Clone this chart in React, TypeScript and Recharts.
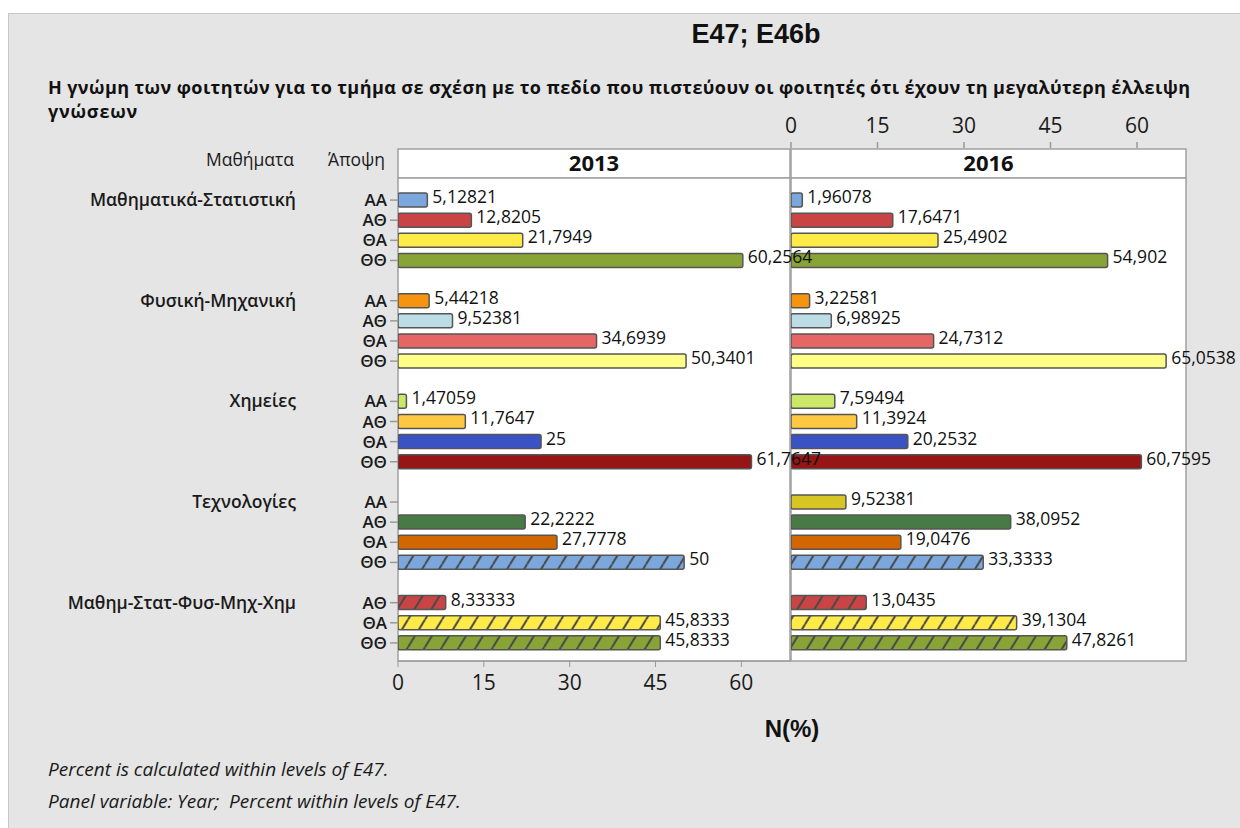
import { BarChart, Bar, XAxis, YAxis, Cell, LabelList } from 'recharts'

const groups = ['Μαθηματικά-Στατιστική', 'Φυσική-Μηχανική', 'Χημείες', 'Τεχνολογίες', 'Μαθημ-Στατ-Φυσ-Μηχ-Χημ']
const opinions = [
  ['ΑΑ', 'ΑΘ', 'ΘΑ', 'ΘΘ'],
  ['ΑΑ', 'ΑΘ', 'ΘΑ', 'ΘΘ'],
  ['ΑΑ', 'ΑΘ', 'ΘΑ', 'ΘΘ'],
  ['ΑΑ', 'ΑΘ', 'ΘΑ', 'ΘΘ'],
  ['ΑΘ', 'ΘΑ', 'ΘΘ'],
]
const pct2013 = [
  [5.12821, 12.8205, 21.7949, 60.2564],
  [5.44218, 9.52381, 34.6939, 50.3401],
  [1.47059, 11.7647, 25, 61.7647],
  [null, 22.2222, 27.7778, 50],
  [8.33333, 45.8333, 45.8333],
]
const pct2016 = [
  [1.96078, 17.6471, 25.4902, 54.902],
  [3.22581, 6.98925, 24.7312, 65.0538],
  [7.59494, 11.3924, 20.2532, 60.7595],
  [9.52381, 38.0952, 19.0476, 33.3333],
  [13.0435, 39.1304, 47.8261],
]
const barColors = [
  ['#7BA7DC', '#C94444', '#FFEB47', '#88A336'],
  ['#F7940F', '#BCDDE6', '#E66565', '#FFFF88'],
  ['#CCE868', '#FFC843', '#3A53C4', '#961515'],
  ['#D6C523', '#477A45', '#D26600', '#7BA7DC'],
  ['#C94444', '#FFEB47', '#88A336'],
]
const hatched = [
  [false, false, false, false],
  [false, false, false, false],
  [false, false, false, false],
  [false, false, false, true],
  [true, true, true],
]
const years = ['2013', '2016']
const xTicks = [0, 15, 30, 45, 60]
const xMax = 68.5

const SANS = '"Open Sans", "Noto Sans", sans-serif'
const ARIAL = '"Liberation Sans", Arial, sans-serif'
const FRAME = '#A0A0A0'

type Row = {
  key: string
  opinion?: string
  groupLabel?: string
  v2013?: number | null
  v2016?: number | null
  color?: string
  hatch?: boolean
}

const rows: Row[] = []
groups.forEach((g, gi) => {
  opinions[gi].forEach((op, oi) => {
    rows.push({
      key: `${gi}-${op}`,
      opinion: op,
      groupLabel: oi === 0 ? g : undefined,
      v2013: pct2013[gi][oi],
      v2016: pct2016[gi][oi],
      color: barColors[gi][oi],
      hatch: hatched[gi][oi],
    })
  })
  if (gi < groups.length - 1) rows.push({ key: `sep-${gi}` })
})
const rowByKey: Record<string, Row> = Object.fromEntries(rows.map((r) => [r.key, r]))

const hatchColors = Array.from(new Set(rows.filter((r) => r.hatch).map((r) => r.color as string)))
const hatchId = (c: string) => `hatch-${c.slice(1)}`
const fillOf = (r: Row) => (r.hatch ? `url(#${hatchId(r.color as string)})` : r.color)

const fmt = (v: any) => (v == null ? '' : String(v).replace('.', ','))

function ValueLabel(props: any) {
  const { x, y, width, height, value } = props
  if (value == null) return null
  return (
    <text x={x + width + 5} y={y + height / 2 + 3} fontSize={17.5} fill="#111" fontFamily={SANS}>
      {fmt(value)}
    </text>
  )
}

function OpinionTick(props: any) {
  const { x, y, payload } = props
  const row = rowByKey[payload.value]
  if (!row || !row.opinion) return <g />
  return (
    <g>
      <line x1={x + 3} x2={x + 11} y1={y} y2={y} stroke="#999" strokeWidth={1.5} />
      <text x={x} y={y + 6} textAnchor="end" fontSize={17} fontWeight={600} fill="#1a1a1a" fontFamily={SANS}>
        {row.opinion}
      </text>
      {row.groupLabel && (
        <text x={296} y={y + 6} textAnchor="end" fontSize={17.5} fontWeight={600} fill="#1a1a1a" fontFamily={SANS}>
          {row.groupLabel}
        </text>
      )}
    </g>
  )
}

function TopTick(props: any) {
  const { x, y, payload } = props
  return (
    <g>
      <line x1={x} x2={x} y1={y - 36} y2={y - 30} stroke="#999" strokeWidth={1.5} />
      <text x={x} y={y - 45} textAnchor="middle" fontSize={21} fill="#1a1a1a" fontFamily={SANS}>
        {payload.value}
      </text>
    </g>
  )
}

function Background() {
  return (
    <svg width={1240} height={828} style={{ position: 'absolute', left: 0, top: 0 }}>
      <defs>
        {hatchColors.map((c) => (
          <pattern key={c} id={hatchId(c)} patternUnits="userSpaceOnUse" width={17} height={27.6}>
            <rect width={17} height={27.6} fill={c} />
            <path d="M-17,27.6 L0,0 M0,27.6 L17,0 M17,27.6 L34,0" stroke="#4a4a4a" strokeWidth={2} />
          </pattern>
        ))}
      </defs>
      <rect x={8.5} y={13.5} width={1240} height={820} fill="#E5E5E5" stroke="#C8C8C8" />
      <text x={756} y={43} textAnchor="middle" fontSize={27} fontWeight={700} fontFamily={ARIAL} fill="#111">
        E47; E46b
      </text>
      <text x={48} y={94} fontSize={18} fontWeight={700} fontFamily={SANS} fill="#111" textLength={1142} lengthAdjust="spacing">
        Η γνώμη των φοιτητών για το τμήμα σε σχέση με το πεδίο που πιστεύουν οι φοιτητές ότι έχουν τη μεγαλύτερη έλλειψη
      </text>
      <text x={48} y={118} fontSize={18} fontWeight={700} fontFamily={SANS} fill="#111" letterSpacing={0.8}>
        γνώσεων
      </text>
      <text x={294} y={166} textAnchor="end" fontSize={17.5} fontFamily={SANS} fill="#1a1a1a">
        Μαθήματα
      </text>
      <text x={385} y={166} textAnchor="end" fontSize={17.5} fontFamily={SANS} fill="#1a1a1a">
        Άποψη
      </text>
      {[398, 791].map((px, i) => (
        <g key={px}>
          <rect x={px} y={149} width={i === 0 ? 392 : 395} height={29} fill="#fff" stroke={FRAME} strokeWidth={1.5} />
          <text x={px + (i === 0 ? 196 : 197.5)} y={171} textAnchor="middle" fontSize={22} fontWeight={700} fontFamily={SANS} fill="#111">
            {years[i]}
          </text>
          <rect x={px} y={178} width={i === 0 ? 392 : 395} height={483} fill="#fff" stroke={FRAME} strokeWidth={1.5} />
        </g>
      ))}
      <text x={792} y={737} textAnchor="middle" fontSize={24} fontWeight={700} fontFamily={ARIAL} fill="#111">
        N(%)
      </text>
      <text x={48} y={776} fontSize={19} fontStyle="italic" fontFamily={SANS} fill="#1a1a1a">
        Percent is calculated within levels of E47.
      </text>
      <text x={48} y={808} fontSize={19} fontStyle="italic" fontFamily={SANS} fill="#1a1a1a" style={{ whiteSpace: 'pre' }}>
        Panel variable: Year;  Percent within levels of E47.
      </text>
    </svg>
  )
}

export default function App() {
  return (
    <div style={{ position: 'absolute', left: 0, top: 0, width: 1240, height: 828, fontFamily: SANS }}>
      <Background />
      <div style={{ position: 'absolute', left: 771, top: 100 }}>
        <BarChart width={475} height={561} data={rows} layout="vertical" margin={{ top: 0, right: 60, bottom: 0, left: 20 }}>
          <XAxis
            type="number"
            orientation="top"
            domain={[0, xMax]}
            ticks={xTicks}
            interval={0}
            height={78}
            axisLine={false}
            tickLine={false}
            tickSize={0}
            tickMargin={0}
            tick={<TopTick />}
            allowDataOverflow
          />
          <YAxis type="category" dataKey="key" hide padding={{ top: 12, bottom: 8 }} />
          <Bar dataKey="v2016" barSize={14} stroke="#555" strokeWidth={1.5} radius={2} isAnimationActive={false}>
            {rows.map((r) => (
              <Cell key={r.key} fill={fillOf(r)} />
            ))}
            <LabelList dataKey="v2016" content={<ValueLabel />} />
          </Bar>
        </BarChart>
      </div>
      <div style={{ position: 'absolute', left: 0, top: 178 }}>
        <BarChart width={890} height={543} data={rows} layout="vertical" margin={{ top: 0, right: 100, bottom: 0, left: 0 }}>
          <XAxis
            type="number"
            domain={[0, xMax]}
            ticks={xTicks}
            interval={0}
            height={60}
            stroke="#999"
            tickSize={6}
            tickMargin={8}
            tick={{ fontSize: 21, fill: '#1a1a1a', fontFamily: SANS }}
            allowDataOverflow
          />
          <YAxis
            type="category"
            dataKey="key"
            width={398}
            interval={0}
            axisLine={false}
            tickLine={false}
            tickSize={8}
            tickMargin={3}
            padding={{ top: 12, bottom: 8 }}
            tick={<OpinionTick />}
          />
          <Bar dataKey="v2013" barSize={14} stroke="#555" strokeWidth={1.5} radius={2} isAnimationActive={false}>
            {rows.map((r) => (
              <Cell key={r.key} fill={fillOf(r)} />
            ))}
            <LabelList dataKey="v2013" content={<ValueLabel />} />
          </Bar>
        </BarChart>
      </div>
    </div>
  )
}
